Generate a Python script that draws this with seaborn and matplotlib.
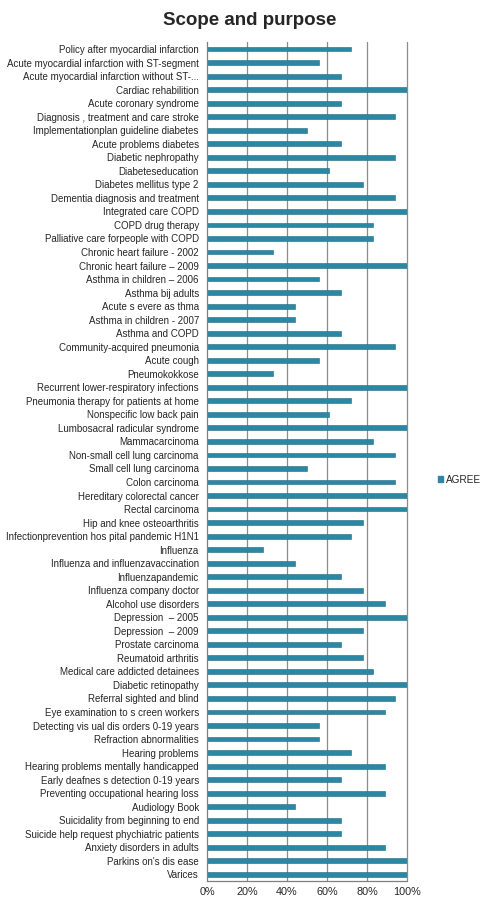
import matplotlib
matplotlib.use("Agg")
import matplotlib.pyplot as plt
import seaborn as sns
import pandas as pd
import numpy as np
from matplotlib.patches import Patch

categories = [
    "Policy after myocardial infarction",
    "Acute myocardial infarction with ST-segment",
    "Acute myocardial infarction without ST-...",
    "Cardiac rehabilition",
    "Acute coronary syndrome",
    "Diagnosis , treatment and care stroke",
    "Implementationplan guideline diabetes",
    "Acute problems diabetes",
    "Diabetic nephropathy",
    "Diabeteseducation",
    "Diabetes mellitus type 2",
    "Dementia diagnosis and treatment",
    "Integrated care COPD",
    "COPD drug therapy",
    "Palliative care forpeople with COPD",
    "Chronic heart failure - 2002",
    "Chronic heart failure \u2013 2009",
    "Asthma in children \u2013 2006",
    "Asthma bij adults",
    "Acute s evere as thma",
    "Asthma in children - 2007",
    "Asthma and COPD",
    "Community-acquired pneumonia",
    "Acute cough",
    "Pneumokokkose",
    "Recurrent lower-respiratory infections",
    "Pneumonia therapy for patients at home",
    "Nonspecific low back pain",
    "Lumbosacral radicular syndrome",
    "Mammacarcinoma",
    "Non-small cell lung carcinoma",
    "Small cell lung carcinoma",
    "Colon carcinoma",
    "Hereditary colorectal cancer",
    "Rectal carcinoma",
    "Hip and knee osteoarthritis",
    "Infectionprevention hos pital pandemic H1N1",
    "Influenza",
    "Influenza and influenzavaccination",
    "Influenzapandemic",
    "Influenza company doctor",
    "Alcohol use disorders",
    "Depression  \u2013 2005",
    "Depression  \u2013 2009",
    "Prostate carcinoma",
    "Reumatoid arthritis",
    "Medical care addicted detainees",
    "Diabetic retinopathy",
    "Referral sighted and blind",
    "Eye examination to s creen workers",
    "Detecting vis ual dis orders 0-19 years",
    "Refraction abnormalities",
    "Hearing problems",
    "Hearing problems mentally handicapped",
    "Early deafnes s detection 0-19 years",
    "Preventing occupational hearing loss",
    "Audiology Book",
    "Suicidality from beginning to end",
    "Suicide help request phychiatric patients",
    "Anxiety disorders in adults",
    "Parkins on's dis ease",
    "Varices",
]

agree = [
    72, 56, 67, 100, 67, 94, 50, 67, 94, 61, 78, 94, 100, 83, 83, 33, 100,
    56, 67, 44, 44, 67, 94, 56, 33, 100, 72, 61, 100, 83, 94, 50, 94, 100,
    100, 78, 72, 28, 44, 67, 78, 89, 100, 78, 67, 78, 83, 100, 94, 89, 56,
    56, 72, 89, 67, 89, 44, 67, 67, 89, 100, 100,
]

series_name = "AGREE"
x_ticks = [0, 20, 40, 60, 80, 100]
x_tick_labels = ["0%", "20%", "40%", "60%", "80%", "100%"]

df = pd.DataFrame({"category": categories, "value": agree})

sns.set_theme(style="white")
plt.rcParams["font.family"] = ["Liberation Sans", "DejaVu Sans"]

fig = plt.figure(figsize=(4.85, 9.0), dpi=100)
ax = fig.add_axes([0.427, 0.021, 0.412, 0.932])

bar_color = "#2B87A3"
sns.barplot(data=df, y="category", x="value", orient="h", color=bar_color,
            width=0.36, edgecolor="#1E6A82", linewidth=0.4, ax=ax,
            saturation=1)

n = len(categories)
ax.set_xlim(0, 100)
ax.set_ylim(n - 0.5, -0.5)
ax.set_xticks(x_ticks)
ax.set_xticklabels(x_tick_labels, fontsize=7.8)
ax.set_xlabel("")
ax.set_ylabel("")
ax.tick_params(axis="y", labelsize=7.0, length=0, pad=6)
ax.tick_params(axis="x", length=0, pad=4)
ax.set_yticks(range(n))
ax.set_yticklabels(categories)

# Excel-like boundary ticks on the category axis
ax.set_yticks(np.arange(-0.5, n, 1.0), minor=True)
ax.tick_params(axis="y", which="minor", length=3, color="#7f7f7f", width=0.7)

for xv in x_ticks[1:]:
    ax.axvline(xv, color="#8c8c8c", linewidth=0.9, zorder=0, clip_on=False)

for side in ["top", "right", "bottom"]:
    ax.spines[side].set_visible(False)
ax.spines["left"].set_color("#7f7f7f")
ax.spines["left"].set_linewidth(0.9)
ax.axhline(n - 0.5, color="#7f7f7f", linewidth=0.9, clip_on=False)

fig.text(0.515, 0.987, "Scope and purpose", ha="center", va="top",
         fontsize=13.5, fontweight="bold")

handle = Patch(facecolor=bar_color, edgecolor=bar_color)
fig.legend([handle], [series_name], loc="center left",
           bbox_to_anchor=(0.885, 0.467), frameon=False, fontsize=7.2,
           handlelength=0.5, handleheight=0.5, handletextpad=0.3)

fig.savefig("out.png", dpi=100)
